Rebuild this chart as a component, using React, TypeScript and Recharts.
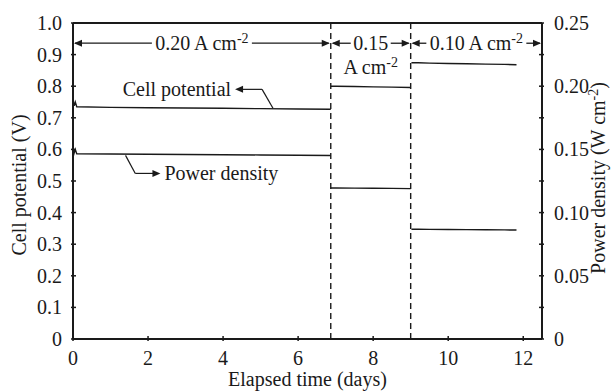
import React from "react";
import { ComposedChart, Line, XAxis, YAxis, ReferenceLine, Label } from "recharts";

// elapsed time (days) and readings for each current-density step
const phase1Days = [0, 0.03, 0.06, 0.1, 1, 2, 3, 4, 5, 6, 6.87];
const phase1Cell = [0.755, 0.738, 0.75, 0.735, 0.733, 0.732, 0.731, 0.73, 0.729, 0.728, 0.727];
const phase1Power = [0.151, 0.147, 0.15, 0.1466, 0.1464, 0.1462, 0.146, 0.1458, 0.1456, 0.1454, 0.1452];

const phase2Days = [6.87, 7, 7.5, 8, 8.5, 9.0];
const phase2Cell = [0.8, 0.8, 0.799, 0.798, 0.797, 0.796];
const phase2Power = [0.1195, 0.1195, 0.1194, 0.1193, 0.1192, 0.119];

const phase3Days = [9.02, 9.2, 9.5, 10, 10.5, 11, 11.5, 11.82];
const phase3Cell = [0.874, 0.874, 0.873, 0.872, 0.871, 0.87, 0.869, 0.868];
const phase3Power = [0.0868, 0.0868, 0.0867, 0.0866, 0.0865, 0.0864, 0.0863, 0.0862];

const phaseBounds = [6.87, 9.0];
const currentLabels = ["0.20", "0.15", "0.10"];

const xTicks = [0, 2, 4, 6, 8, 10, 12];
const leftTicks = [0, 0.1, 0.2, 0.3, 0.4, 0.5, 0.6, 0.7, 0.8, 0.9, 1.0];
const rightTicks = [0, 0.025, 0.05, 0.075, 0.1, 0.125, 0.15, 0.175, 0.2, 0.225, 0.25];

const toRows = (days: number[], vals: number[]) => days.map((t, i) => ({ t, v: vals[i] }));

const INK = "#1a1a1a";
const FONT = "'Liberation Serif', 'Times New Roman', serif";
const FS = 20;

const head = (x: number, y: number, dir: number) => (
    <polygon points={`${x},${y} ${x - dir * 8},${y - 3.5} ${x - dir * 8},${y + 3.5}`} fill={INK} />
);

const Sup = ({ base, sup, after }: { base: string; sup: string; after?: string }) => (
    <>
        {base}
        <tspan dy={-7} fontSize={14}>{sup}</tspan>
        {after ? <tspan dy={7}>{after}</tspan> : null}
    </>
);

// double-headed arrow with a label in a gap at the middle
const spanArrow = (gapHalf: number, label: React.ReactNode, below?: React.ReactNode) => (p: any) => {
    const { x1, x2, y1 } = p;
    const mid = (x1 + x2) / 2;
    return (
        <g>
            <line x1={x1 + 2} x2={mid - gapHalf} y1={y1} y2={y1} stroke={INK} strokeWidth={1.3} />
            <line x1={mid + gapHalf} x2={x2 - 2} y1={y1} y2={y1} stroke={INK} strokeWidth={1.3} />
            {head(x1 + 1, y1, -1)}
            {head(x2 - 1, y1, 1)}
            <text x={mid} y={y1} dy="0.35em" textAnchor="middle" fontFamily={FONT} fontSize={FS} fill={INK}>
                {label}
            </text>
            {below ? (
                <text x={mid} y={y1 + 24} dy="0.35em" textAnchor="middle" fontFamily={FONT} fontSize={FS} fill={INK}>
                    {below}
                </text>
            ) : null}
        </g>
    );
};

// leader segment, optionally ending in an arrowhead with text beyond it
const leader = (withHead: boolean, text?: string) => (p: any) => {
    const { x1, y1, x2, y2 } = p;
    const dir = x2 >= x1 ? 1 : -1;
    return (
        <g>
            <line x1={x1} y1={y1} x2={withHead ? x2 - dir * 6 : x2} y2={y2} stroke={INK} strokeWidth={1.2} />
            {withHead ? head(x2, y2, dir) : null}
            {text ? (
                <text
                    x={x2 + dir * 4}
                    y={y2}
                    dy="0.33em"
                    textAnchor={dir > 0 ? "start" : "end"}
                    fontFamily={FONT}
                    fontSize={FS}
                    fill={INK}
                >
                    {text}
                </text>
            ) : null}
        </g>
    );
};

const XTick = ({ x, y, payload }: any) => (
    <g>
        <line x1={x} x2={x} y1={y} y2={y - 5} stroke={INK} strokeWidth={1.5} />
        <text x={x} y={y + 10} dy="0.71em" textAnchor="middle" fontFamily={FONT} fontSize={FS} fill={INK}>
            {payload.value}
        </text>
    </g>
);

const LeftTick = ({ x, y, payload }: any) => (
    <g>
        <line x1={x} x2={x + 5} y1={y} y2={y} stroke={INK} strokeWidth={1.5} />
        <text x={x - 9} y={y} dy="0.35em" textAnchor="end" fontFamily={FONT} fontSize={FS} fill={INK}>
            {payload.value === 0 ? "0" : payload.value.toFixed(1)}
        </text>
    </g>
);

const RightTick = ({ x, y, payload }: any) => {
    const v = payload.value;
    const major = Math.abs(Math.round(v / 0.05) * 0.05 - v) < 1e-6;
    return (
        <g>
            <line x1={x} x2={x - 5} y1={y} y2={y} stroke={INK} strokeWidth={1.5} />
            {major ? (
                <text x={x + 10} y={y} dy="0.35em" textAnchor="start" fontFamily={FONT} fontSize={FS} fill={INK}>
                    {v === 0 ? "0" : v.toFixed(2)}
                </text>
            ) : null}
        </g>
    );
};

const XTitle = ({ viewBox }: any) => (
    <text x={viewBox.x + viewBox.width / 2} y={viewBox.y + 47} textAnchor="middle" fontFamily={FONT} fontSize={FS} fill={INK}>
        Elapsed time (days)
    </text>
);

const LeftTitle = ({ viewBox }: any) => {
    const cy = viewBox.y + viewBox.height / 2 + 4;
    return (
        <text transform={`translate(${viewBox.x + 26},${cy}) rotate(-90)`} textAnchor="middle" fontFamily={FONT} fontSize={FS} fill={INK}>
            Cell potential (V)
        </text>
    );
};

const RightTitle = ({ viewBox }: any) => {
    const cy = viewBox.y + viewBox.height / 2 - 3;
    return (
        <text transform={`translate(${viewBox.x + 63},${cy}) rotate(-90)`} textAnchor="middle" fontFamily={FONT} fontSize={FS} fill={INK}>
            <Sup base="Power density (W cm" sup="-2" after=")" />
        </text>
    );
};

const series = [
    { key: "c1", data: toRows(phase1Days, phase1Cell), axis: "left" },
    { key: "c2", data: toRows(phase2Days, phase2Cell), axis: "left" },
    { key: "c3", data: toRows(phase3Days, phase3Cell), axis: "left" },
    { key: "p1", data: toRows(phase1Days, phase1Power), axis: "right" },
    { key: "p2", data: toRows(phase2Days, phase2Power), axis: "right" },
    { key: "p3", data: toRows(phase3Days, phase3Power), axis: "right" },
];

const ARROW_Y = 0.936;

export default function App() {
    const [b1, b2] = phaseBounds;
    return (
        <div style={{ position: "absolute", left: 0, top: 0, width: 614, height: 391, background: "#fff" }}>
            <ComposedChart width={614} height={391} margin={{ top: 23, right: 0, bottom: 0, left: 0 }}>
                <XAxis
                    dataKey="t"
                    type="number"
                    domain={[0, 12.5]}
                    ticks={xTicks}
                    height={52}
                    tickSize={0}
                    tickLine={false}
                    tick={<XTick />}
                    axisLine={{ stroke: INK, strokeWidth: 2 }}
                    allowDataOverflow
                >
                    <Label content={<XTitle />} />
                </XAxis>
                <YAxis
                    yAxisId="left"
                    domain={[0, 1]}
                    ticks={leftTicks}
                    width={73}
                    tickSize={0}
                    tickLine={false}
                    tick={<LeftTick />}
                    axisLine={{ stroke: INK, strokeWidth: 2 }}
                    allowDataOverflow
                >
                    <Label content={<LeftTitle />} />
                </YAxis>
                <YAxis
                    yAxisId="right"
                    orientation="right"
                    domain={[0, 0.25]}
                    ticks={rightTicks}
                    width={72}
                    tickSize={0}
                    tickLine={false}
                    tick={<RightTick />}
                    axisLine={{ stroke: INK, strokeWidth: 2 }}
                    allowDataOverflow
                >
                    <Label content={<RightTitle />} />
                </YAxis>

                <ReferenceLine yAxisId="left" y={1} stroke={INK} strokeWidth={2} />
                {phaseBounds.map((b) => (
                    <ReferenceLine key={b} yAxisId="left" x={b} stroke={INK} strokeWidth={1.4} strokeDasharray="6 4" />
                ))}

                <ReferenceLine
                    yAxisId="left"
                    ifOverflow="visible"
                    segment={[{ x: 0, y: ARROW_Y }, { x: b1, y: ARROW_Y }]}
                    shape={spanArrow(50, <Sup base={`${currentLabels[0]} A cm`} sup="-2" />)}
                />
                <ReferenceLine
                    yAxisId="left"
                    ifOverflow="visible"
                    segment={[{ x: b1, y: ARROW_Y }, { x: b2, y: ARROW_Y }]}
                    shape={spanArrow(20, currentLabels[1], <Sup base="A cm" sup="-2" />)}
                />
                <ReferenceLine
                    yAxisId="left"
                    ifOverflow="visible"
                    segment={[{ x: b2, y: ARROW_Y }, { x: 12.5, y: ARROW_Y }]}
                    shape={spanArrow(50, <Sup base={`${currentLabels[2]} A cm`} sup="-2" />)}
                />

                <ReferenceLine
                    yAxisId="left"
                    ifOverflow="visible"
                    segment={[{ x: 5.33, y: 0.73 }, { x: 5.04, y: 0.79 }]}
                    shape={leader(false)}
                />
                <ReferenceLine
                    yAxisId="left"
                    ifOverflow="visible"
                    segment={[{ x: 5.04, y: 0.79 }, { x: 4.32, y: 0.79 }]}
                    shape={leader(true, "Cell potential")}
                />
                <ReferenceLine
                    yAxisId="left"
                    ifOverflow="visible"
                    segment={[{ x: 1.4, y: 0.581 }, { x: 1.66, y: 0.524 }]}
                    shape={leader(false)}
                />
                <ReferenceLine
                    yAxisId="left"
                    ifOverflow="visible"
                    segment={[{ x: 1.66, y: 0.524 }, { x: 2.33, y: 0.524 }]}
                    shape={leader(true, "Power density")}
                />

                {series.map((s) => (
                    <Line
                        key={s.key}
                        data={s.data}
                        dataKey="v"
                        yAxisId={s.axis}
                        type="linear"
                        stroke={INK}
                        strokeWidth={1.4}
                        dot={false}
                        activeDot={false}
                        isAnimationActive={false}
                    />
                ))}
            </ComposedChart>
        </div>
    );
}
